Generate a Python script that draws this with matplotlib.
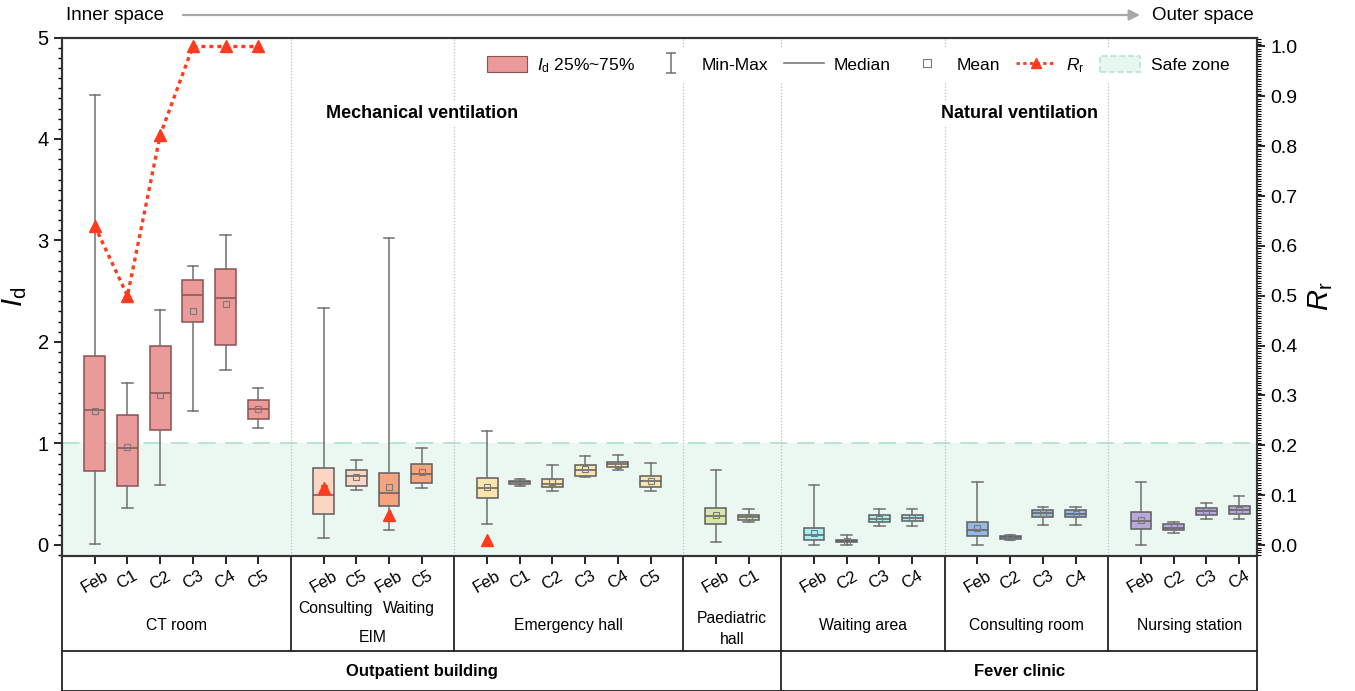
import matplotlib
matplotlib.use("Agg")
import matplotlib.pyplot as plt
from matplotlib.lines import Line2D
from matplotlib.patches import Patch
from matplotlib.path import Path
from matplotlib.transforms import blended_transform_factory
from matplotlib.ticker import MultipleLocator

plt.rcParams['font.family'] = ['Liberation Sans', 'DejaVu Sans']
plt.rcParams['mathtext.fontset'] = 'custom'
plt.rcParams['mathtext.rm'] = 'Liberation Sans'
plt.rcParams['mathtext.it'] = 'Liberation Sans:italic'
plt.rcParams['mathtext.bf'] = 'Liberation Sans:bold'
NARROW = ['Liberation Sans', 'DejaVu Sans']

# ---------------- data ----------------
group_names = ["CT room", "EIM", "Emergency hall", "Paediatric\nhall",
               "Waiting area", "Consulting room", "Nursing station"]
group_sizes = [6, 4, 6, 2, 4, 4, 4]
tick_labels = ["Feb", "C1", "C2", "C3", "C4", "C5",
               "Feb", "C5", "Feb", "C5",
               "Feb", "C1", "C2", "C3", "C4", "C5",
               "Feb", "C1",
               "Feb", "C2", "C3", "C4",
               "Feb", "C2", "C3", "C4",
               "Feb", "C2", "C3", "C4"]

whislo = [0.01, 0.365, 0.59, 1.323, 1.72, 1.148,
          0.072, 0.543, 0.145, 0.556,
          0.207, 0.579, 0.533, 0.665, 0.74, 0.533,
          0.023, 0.227,
          0.0, 0.003, 0.184, 0.184,
          0.0, 0.049, 0.197, 0.197,
          0.0, 0.112, 0.254, 0.254]
q1 = [0.73, 0.58, 1.13, 2.195, 1.974, 1.24,
      0.30, 0.576, 0.385, 0.609,
      0.46, 0.602, 0.566, 0.678, 0.763, 0.573,
      0.204, 0.244,
      0.046, 0.023, 0.22, 0.234,
      0.086, 0.062, 0.27, 0.27,
      0.151, 0.145, 0.296, 0.306]
median = [1.33, 0.958, 1.497, 2.46, 2.43, 1.34,
          0.487, 0.674, 0.51, 0.698,
          0.556, 0.615, 0.599, 0.737, 0.797, 0.625,
          0.283, 0.27,
          0.096, 0.036, 0.254, 0.267,
          0.145, 0.076, 0.309, 0.306,
          0.237, 0.165, 0.335, 0.345]
q3 = [1.86, 1.277, 1.96, 2.606, 2.715, 1.431,
      0.753, 0.734, 0.708, 0.797,
      0.655, 0.632, 0.652, 0.787, 0.816, 0.675,
      0.362, 0.29,
      0.165, 0.049, 0.29, 0.293,
      0.224, 0.086, 0.342, 0.342,
      0.323, 0.204, 0.365, 0.378]
whishi = [4.43, 1.59, 2.31, 2.75, 3.05, 1.543,
          2.333, 0.832, 3.02, 0.954,
          1.126, 0.648, 0.79, 0.872, 0.888, 0.803,
          0.737, 0.355,
          0.586, 0.092, 0.352, 0.352,
          0.619, 0.096, 0.368, 0.368,
          0.622, 0.22, 0.41, 0.48]
mean = [1.32, 0.96, 1.478, 2.30, 2.37, 1.34,
        0.56, 0.665, 0.573, 0.714,
        0.57, 0.617, 0.622, 0.744, 0.79, 0.632,
        0.29, 0.27,
        0.118, 0.036, 0.254, 0.267,
        0.165, 0.076, 0.31, 0.306,
        0.243, 0.178, 0.335, 0.345]

# R_r values (right axis)
rr_ct_index = [0, 1, 2, 3, 4, 5]          # box indices (CT room)
rr_ct = [0.64, 0.50, 0.822, 1.0, 1.0, 1.0]
rr_other_index = [6, 8, 10]               # EIM consulting Feb, EIM waiting Feb, Emergency Feb
rr_other = [0.115, 0.06, 0.01]

# colours
box_colors = (["#EA9A98"] * 6 + ["#FCD6C5", "#FCD6C5", "#F5A47E", "#F5A47E"] +
              ["#FCE4AF"] * 6 + ["#D8E6AC"] * 2 + ["#A9F1F7"] * 4 +
              ["#94B9E3"] * 4 + ["#B9A8DC"] * 4)
edge_colors = ["#8C5252"] * 6 + ["#5E5E5E"] * 24

# ---------------- positions ----------------
positions = []
seps = []
x = 1
for n in group_sizes:
    positions += list(range(x, x + n))
    x += n + 1
    seps.append(x - 1)
seps = seps[:-1]
XMAX = positions[-1] + 0.55
group_centers = []
start = 0
for n in group_sizes:
    group_centers.append((positions[start] + positions[start + n - 1]) / 2)
    start += n

# ---------------- figure ----------------
fig = plt.figure(figsize=(13.55, 6.91), dpi=100)
ax = fig.add_axes([0.0458, 0.1954, 0.8819, 0.7503])
ax.set_xlim(0, XMAX)
ax.set_ylim(-0.11, 5.0)

# safe zone
ax.axhspan(-0.11, 1.0, color="#EBF8F2", zorder=0, lw=0)
ax.axhline(1.0, color="#B5E6D1", lw=1.4, dashes=(9, 5), zorder=1)

# separators
for s in seps:
    ax.axvline(s, color="#BDBDBD", ls=(0, (1, 1.5)), lw=0.9, zorder=1)

stats = []
for i in range(len(positions)):
    stats.append(dict(med=median[i], q1=q1[i], q3=q3[i], whislo=whislo[i],
                      whishi=whishi[i], mean=mean[i], fliers=[]))

bp = ax.bxp(stats, positions=positions, widths=0.64, capwidths=0.32,
            patch_artist=True, showmeans=True, meanline=False, showfliers=False,
            boxprops=dict(linewidth=1.1),
            whiskerprops=dict(color="#707070", linewidth=1.1),
            capprops=dict(color="#707070", linewidth=1.1),
            medianprops=dict(linewidth=1.1),
            meanprops=dict(marker="s", markersize=5, markerfacecolor="none",
                           markeredgecolor="#7A7A7A", markeredgewidth=0.8),
            zorder=3)
for i, patch in enumerate(bp["boxes"]):
    patch.set_facecolor(box_colors[i])
    patch.set_edgecolor(edge_colors[i])
for i, med in enumerate(bp["medians"]):
    med.set_color(edge_colors[i])

# axis styling
for sp in ax.spines.values():
    sp.set_linewidth(1.5)
    sp.set_color("#333333")
ax.set_xticks(positions)
ax.set_xticklabels(tick_labels, rotation=30, ha="center", va="top",
                   family=NARROW, fontsize=12)
ax.tick_params(axis="x", direction="out", length=6, width=1.2, pad=3)
ax.yaxis.set_major_locator(MultipleLocator(1))
ax.yaxis.set_minor_locator(MultipleLocator(0.1))
ax.tick_params(axis="y", which="major", direction="out", length=6, width=1.2,
               labelsize=14.5)
ax.tick_params(axis="y", which="minor", direction="out", length=3, width=1.0)
ax.set_ylabel(r"$I_{\rm d}$", fontsize=21, labelpad=6)

# right axis
ax2 = ax.twinx()
ax2.set_ylim(-0.022, 1.018)
ax2.yaxis.set_major_locator(MultipleLocator(0.1))
ax2.yaxis.set_minor_locator(MultipleLocator(0.005))
ax2.tick_params(axis="y", which="major", direction="out", length=6, width=1.2,
                labelsize=14)
ax2.tick_params(axis="y", which="minor", direction="out", length=3, width=0.8)
ax2.set_yticklabels([f"{v:.1f}" for v in ax2.get_yticks()])
ax2.set_ylim(-0.022, 1.018)
for sp in ax2.spines.values():
    sp.set_linewidth(1.5)
    sp.set_color("#333333")
ax2.set_ylabel(r"$R_{\rm r}$", fontsize=21, labelpad=6)

RED = "#FF3A1E"
ax2.plot([positions[i] for i in rr_ct_index], rr_ct, color=RED, ls=(0, (1.2, 1.2)),
         lw=2.4, marker="^", markersize=8, zorder=5)
ax2.plot([positions[i] for i in rr_other_index], rr_other, color=RED, ls="none",
         marker="^", markersize=8, zorder=5)

# section titles
ax.text(seps[3] / 2, 4.25, "Mechanical ventilation", ha="center",
        va="center", fontsize=13, fontweight="bold", zorder=4,
        bbox=dict(facecolor="white", edgecolor="none", pad=2))
ax.text((seps[3] + XMAX) / 2, 4.25, "Natural ventilation", ha="center",
        va="center", fontsize=13, fontweight="bold", zorder=4,
        bbox=dict(facecolor="white", edgecolor="none", pad=2))

# legend
ivert = Path([(-0.5, -1), (0.5, -1), (0, -1), (0, 1), (-0.5, 1), (0.5, 1)],
             [Path.MOVETO, Path.LINETO, Path.MOVETO, Path.LINETO, Path.MOVETO, Path.LINETO])
handles = [
    Patch(facecolor="#EA9A98", edgecolor="#8C5252", lw=0.8),
    Line2D([], [], marker=ivert, ls="none", markersize=15, markerfacecolor="none",
           markeredgecolor="#707070", markeredgewidth=1.1),
    Line2D([], [], color="#7A7A7A", lw=1.2),
    Line2D([], [], marker="s", ls="none", markersize=5.5, markerfacecolor="none",
           markeredgecolor="#7A7A7A", markeredgewidth=0.8),
    Line2D([], [], color=RED, ls=(0, (1.2, 1.2)), lw=2.0, marker="^", markersize=7),
    Patch(facecolor="#E8F7F0", edgecolor="#B5E6D1", ls="--", lw=1.2),
]
labels = [r"$I_{\rm d}$ 25%~75%", "Min-Max", "Median", "Mean", r"$R_{\rm r}$", "Safe zone"]
leg = ax2.legend(handles, labels, ncol=6, loc="upper right",
                 bbox_to_anchor=(0.99, 0.995), fontsize=12.5, frameon=True,
                 facecolor="white", edgecolor="none", framealpha=1.0,
                 handlelength=2.3, handleheight=1.1, columnspacing=0.9,
                 handletextpad=0.6, borderpad=0.4)
leg.set_zorder(10)

# ---------------- table below the axis ----------------
tr = blended_transform_factory(ax.transData, ax.transAxes)
ROW1 = -0.1832
ROW2 = -0.2604
lkw = dict(color="#222222", lw=1.3, transform=tr, clip_on=False)
ax.add_line(Line2D([0, XMAX], [ROW1, ROW1], **lkw))
ax.add_line(Line2D([0, XMAX], [ROW2, ROW2], **lkw))
ax.add_line(Line2D([0, 0], [0, ROW2], **lkw))
ax.add_line(Line2D([XMAX, XMAX], [0, ROW2], **lkw))
for s in seps:
    ax.add_line(Line2D([s, s], [0, ROW1], **lkw))
ax.add_line(Line2D([seps[3], seps[3]], [ROW1, ROW2], **lkw))

tkw = dict(transform=tr, ha="center", va="center", family=NARROW, fontsize=11.3,
           clip_on=False)
for gi, name in enumerate(group_names):
    if name == "EIM":
        c = group_centers[gi]
        ax.text(c - 1.15, -0.102, "Consulting", **tkw)
        ax.text(c + 1.1, -0.102, "Waiting", **tkw)
        ax.text(c, -0.158, "EIM", **tkw)
    elif "\n" in name:
        ax.text(group_centers[gi], -0.141, name, linespacing=1.5, **tkw)
    else:
        ax.text(group_centers[gi], -0.135, name, **tkw)

bkw = dict(tkw)
bkw["fontweight"] = "bold"
bkw["fontsize"] = 12
ax.text(seps[3] / 2, -0.2237, "Outpatient building", **bkw)
ax.text((seps[3] + XMAX) / 2, -0.2237, "Fever clinic", **bkw)

# ---------------- top arrow ----------------
ytop = 1 - 15 / 691
fig.text(115 / 1355, ytop, "Inner space", ha="center", va="center", fontsize=13.5)
fig.text(1152 / 1355, ytop, "Outer space", ha="left", va="center", fontsize=13.5)
ax.annotate("", xy=(1140 / 1355, ytop), xytext=(183 / 1355, ytop),
            xycoords="figure fraction", textcoords="figure fraction",
            arrowprops=dict(arrowstyle="-|>", color="#A8A8A8", lw=1.6,
                            mutation_scale=16, shrinkA=0, shrinkB=0))

fig.savefig("out.png", dpi=100)
